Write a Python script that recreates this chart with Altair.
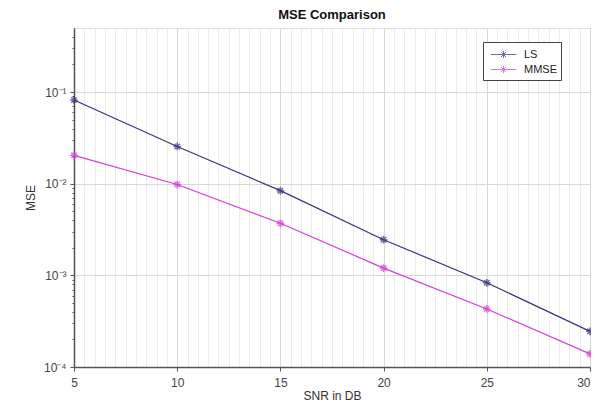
import altair as alt
import pandas as pd

snr = [5, 10, 15, 20, 25, 30]
mse_ls = [0.082, 0.0255, 0.0084, 0.00245, 0.00083, 0.000245]
mse_mmse = [0.0204, 0.0098, 0.0037, 0.0012, 0.00043, 0.000139]
methods = ["LS", "MMSE"]
colors = ["#35357f", "#d83cd8"]

x_ticks = [5 + 0.5 * i for i in range(51)]
y_ticks = [m * 10.0 ** e for e in range(-4, 0) for m in range(1, 10)]
y_ticks = [v for v in y_ticks if v < 0.45]

df = pd.DataFrame({
    "snr": snr * 2,
    "mse": mse_ls + mse_mmse,
    "method": ["LS"] * len(snr) + ["MMSE"] * len(snr),
})

asterisk = "M-1,0H1M0,-1V1M-0.7,-0.7L0.7,0.7M-0.7,0.7L0.7,-0.7"
legend_sym = "M-1.6,0H1.6M-0.45,0H0.45M0,-0.45V0.45M-0.32,-0.32L0.32,0.32M-0.32,0.32L0.32,-0.32"

x_major = "abs(datum.value % 5) < 0.001"
y_major = "abs(log(datum.value)/LN10 - round(log(datum.value)/LN10)) < 0.001"

x_enc = alt.X(
    "snr:Q",
    scale=alt.Scale(domain=[5, 30], nice=False, zero=False),
    axis=alt.Axis(
        title="SNR in DB",
        values=x_ticks,
        labelExpr=f"{x_major} ? format(datum.value, 'd') : ''",
        labelAlign={"condition": {"test": "datum.value >= 30", "value": "right"}, "value": "center"},
        gridColor={"condition": {"test": x_major, "value": "#d8d8d8"}, "value": "#ececec"},
        tickSize={"condition": {"test": x_major, "value": 4}, "value": 0},
        tickColor="#555",
        domainColor="#555",
        domainWidth=1.5,
        labelColor="#444",
        labelFontSize=12,
        labelPadding=6,
        titleColor="#333",
        titleFontSize=12,
        titleFontWeight="normal",
        titlePadding=2,
        labelFlush=False,
        labelOverlap=False,
    ),
)
y_enc = alt.Y(
    "mse:Q",
    scale=alt.Scale(type="log", domain=[1e-4, 0.5], nice=False),
    axis=alt.Axis(
        title="MSE",
        values=y_ticks,
        labelExpr=f"{y_major} ? '10' + ['⁻⁴','⁻³','⁻²','⁻¹','⁰'][round(log(datum.value)/LN10)+4] : ''",
        gridOpacity={"condition": {"test": y_major, "value": 1}, "value": 0},
        gridColor="#d8d8d8",
        tickSize={"condition": {"test": y_major, "value": 4}, "value": 2},
        tickColor="#555",
        domainColor="#555",
        domainWidth=1.5,
        labelColor="#444",
        labelFontSize=12,
        labelPadding=4,
        titleColor="#333",
        titleFontSize=12,
        titleFontWeight="normal",
        titlePadding=6,
        labelOverlap=False,
    ),
)
color_enc = alt.Color(
    "method:N",
    scale=alt.Scale(domain=methods, range=colors),
    legend=alt.Legend(
        title=None,
        orient="none",
        legendX=409,
        legendY=14,
        strokeColor="#444",
        fillColor="white",
        padding=4,
        symbolType=legend_sym,
        symbolSize=256,
        symbolStrokeWidth=1,
        symbolFillColor="transparent",
        labelOffset=12,
        labelFontSize=11,
        labelColor="#222",
        rowPadding=0,
        symbolOffset=8,
    ),
)

lines = alt.Chart(df).mark_line(strokeWidth=1.2).encode(x=x_enc, y=y_enc, color=color_enc)
points = alt.Chart(df).mark_point(shape=asterisk, filled=False, size=60, strokeWidth=1.5).encode(
    x=x_enc, y=y_enc, color=color_enc
)

chart = (
    alt.layer(lines, points)
    .properties(
        width=516,
        height=339,
        title=alt.TitleParams("MSE Comparison", fontSize=13, fontWeight="bold", color="#111",
                              offset=6, frame="group"),
        autosize=alt.AutoSizeParams(type="none"),
        padding={"left": 66, "top": 20, "right": 1, "bottom": 35},
    )
    .configure_view(stroke="#666", strokeWidth=1)
    .configure(font="Liberation Sans", background="white")
)

chart.save("out.html", embed_options={"renderer": "svg", "actions": False})
